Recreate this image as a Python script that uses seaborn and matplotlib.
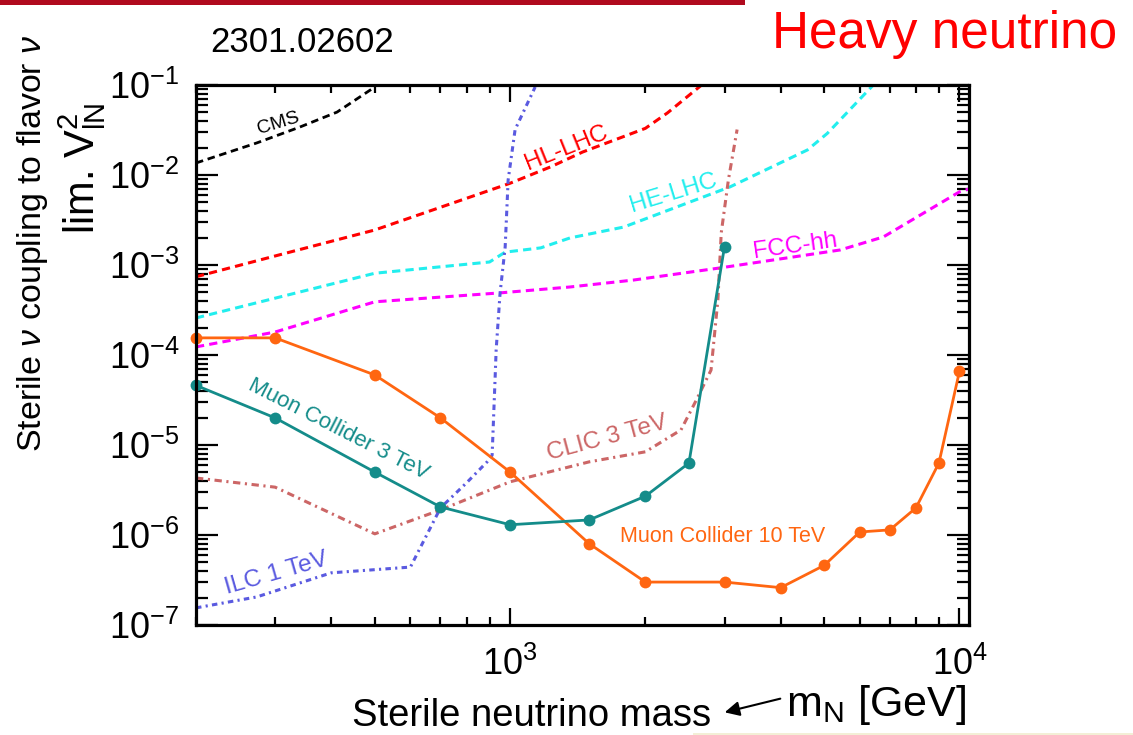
import numpy as np
import pandas as pd
import matplotlib
matplotlib.use("Agg")
import matplotlib.pyplot as plt
import seaborn as sns
from matplotlib.patches import Rectangle
from matplotlib.ticker import LogLocator, NullFormatter, LogFormatterSciNotation

# ---------------- data ----------------
mc10_mass = [200, 300, 500, 700, 1000, 1500, 2000, 3000, 4000, 5000, 6000, 7000, 8000, 9000, 10000]
mc10_v2 = [1.55e-4, 1.55e-4, 6.0e-5, 2.0e-5, 5.0e-6, 8.0e-7, 3.0e-7, 3.0e-7, 2.6e-7,
           4.6e-7, 1.08e-6, 1.14e-6, 2.0e-6, 6.3e-6, 6.6e-5]

mc3_mass = [200, 300, 500, 700, 1000, 1500, 2000, 2500, 3000]
mc3_v2 = [4.6e-5, 2.0e-5, 5.0e-6, 2.05e-6, 1.3e-6, 1.47e-6, 2.7e-6, 6.3e-6, 1.6e-3]

clic_mass = [200, 300, 500, 700, 1000, 1500, 2000, 2400, 2600, 2800, 2900, 2950, 3060, 3200]
clic_v2 = [4.3e-6, 3.4e-6, 1.03e-6, 1.9e-6, 3.9e-6, 6.5e-6, 8.4e-6, 1.47e-5, 3.2e-5,
           6.8e-5, 4.1e-4, 2.27e-3, 8.8e-3, 3.2e-2]

ilc_mass = [200, 273, 400, 600, 700, 800, 889, 912, 926, 931, 950, 975, 990, 1026, 1137]
ilc_v2 = [1.55e-7, 2.05e-7, 3.8e-7, 4.4e-7, 2.0e-6, 3.8e-6, 6.5e-6, 7.7e-6, 5.5e-5,
          1.14e-4, 4.9e-4, 1.58e-3, 8.8e-3, 3.2e-2, 9.5e-2]

hl_mass = [200, 300, 500, 1000, 1230, 1450, 2000, 2240, 2700]
hl_v2 = [7.4e-4, 1.26e-3, 2.45e-3, 8.1e-3, 1.23e-2, 1.8e-2, 3.3e-2, 4.9e-2, 1.05e-1]

he_mass = [200, 500, 900, 975, 1170, 1360, 1790, 3090, 4590, 5080, 6430]
he_v2 = [2.58e-4, 8.1e-4, 1.08e-3, 1.39e-3, 1.55e-3, 2.0e-3, 2.64e-3, 7.4e-3, 1.9e-2, 2.9e-2, 1.0e-1]

fcc_mass = [200, 300, 500, 950, 1360, 1880, 2940, 5430, 6770, 10000, 10500]
fcc_v2 = [1.23e-4, 1.8e-4, 3.9e-4, 4.9e-4, 5.7e-4, 6.8e-4, 9.3e-4, 1.47e-3, 2.05e-3, 6.5e-3, 7.0e-3]

cms_mass = [200, 273, 340, 412, 500]
cms_v2 = [1.36e-2, 2.27e-2, 3.4e-2, 5.0e-2, 9.5e-2]

# ---------------- style ----------------
sns.set_theme(style="ticks")
plt.rcParams['font.family'] = ['Liberation Sans', 'DejaVu Sans']
plt.rcParams['mathtext.fontset'] = 'custom'
plt.rcParams['mathtext.rm'] = 'Liberation Sans'
plt.rcParams['mathtext.it'] = 'Liberation Sans:italic'
plt.rcParams['mathtext.bf'] = 'Liberation Sans:bold'

W, H = 1133, 735
fig = plt.figure(figsize=(W / 100, H / 100), dpi=100)
fig.patch.set_facecolor('white')

L, R, T, B = 196, 969, 85, 625
ax = fig.add_axes([L / W, 1 - B / H, (R - L) / W, (B - T) / H])
ax.set_xscale('log')
ax.set_yscale('log')
ax.set_xlim(200, 10500)
ax.set_ylim(1e-7, 1e-1)


def fx(x, y):
    return (x / W, 1 - y / H)


# ---------------- curves ----------------
dashed = (0, (2.7, 1.7))
sns.lineplot(x=cms_mass, y=cms_v2, ax=ax, color='black', lw=2.0, linestyle=dashed,
             sort=False, estimator=None)
sns.lineplot(x=hl_mass, y=hl_v2, ax=ax, color='#FF0000', lw=2.2, linestyle=dashed,
             sort=False, estimator=None)
sns.lineplot(x=he_mass, y=he_v2, ax=ax, color='#22EEEE', lw=2.2, linestyle=dashed,
             sort=False, estimator=None)
sns.lineplot(x=fcc_mass, y=fcc_v2, ax=ax, color='#FF00FF', lw=2.2, linestyle=dashed,
             sort=False, estimator=None)
sns.lineplot(x=clic_mass, y=clic_v2, ax=ax, color='#CC6666', lw=2.2,
             linestyle=(0, (2.4, 1.5, 0.7, 1.5)), sort=False, estimator=None)
sns.lineplot(x=ilc_mass, y=ilc_v2, ax=ax, color='#5A5AE0', lw=2.2,
             linestyle=(0, (1.8, 1.4, 0.7, 1.4)), sort=False, estimator=None)
sns.lineplot(x=mc10_mass, y=mc10_v2, ax=ax, color='#FF6611', lw=2.0, marker='o',
             markersize=8.5, markeredgewidth=0, sort=False, estimator=None, clip_on=False)
sns.lineplot(x=mc3_mass, y=mc3_v2, ax=ax, color='#148C8A', lw=2.0, marker='o',
             markersize=8.5, markeredgewidth=0, sort=False, estimator=None, clip_on=False)

# ---------------- axes styling ----------------
for s in ax.spines.values():
    s.set_linewidth(2.3)
    s.set_color('black')
    s.set_visible(True)

ax.xaxis.set_major_locator(LogLocator(base=10, numticks=10))
ax.xaxis.set_minor_locator(LogLocator(base=10, subs=np.arange(2, 10), numticks=20))
ax.yaxis.set_major_locator(LogLocator(base=10, numticks=10))
ax.yaxis.set_minor_locator(LogLocator(base=10, subs=np.arange(2, 10), numticks=20))
ax.xaxis.set_minor_formatter(NullFormatter())
ax.yaxis.set_minor_formatter(NullFormatter())
ax.xaxis.set_major_formatter(LogFormatterSciNotation())
ax.yaxis.set_major_formatter(LogFormatterSciNotation())

ax.tick_params(axis='x', which='major', direction='in', length=12, width=1.6,
               top=True, bottom=True, labelsize=26, pad=16, colors='black')
ax.tick_params(axis='x', which='minor', direction='in', length=6, width=1.6,
               top=True, bottom=True, colors='black')
ax.tick_params(axis='y', which='major', direction='in', length=16, width=1.6,
               left=True, right=True, labelsize=26, pad=12, colors='black')
ax.tick_params(axis='y', which='minor', direction='in', length=8.5, width=1.6,
               left=True, right=True, colors='black')
ax.set_xlabel('')
ax.set_ylabel('')
ax.grid(False)

# ---------------- curve labels ----------------
def lab(txt, x, y, color, size, rot):
    ax.text(*fx(x, y), txt, transform=fig.transFigure, color=color, fontsize=size,
            rotation=rot, rotation_mode='anchor', ha='center', va='center')

lab('CMS', 278, 123, 'black', 14, 17)
lab('HL-LHC', 566, 148, '#FF0000', 17.5, 22)
lab('HE-LHC', 673, 193, '#22EEEE', 17.5, 17)
lab('FCC-hh', 795, 246, '#FF00FF', 17.5, 8)
lab('CLIC 3 TeV', 607, 438, '#CC6666', 17.5, 15)
lab('ILC 1 TeV', 276, 574, '#5A5AE0', 17.5, 16)
lab('Muon Collider 3 TeV', 338, 429, '#148C8A', 16, -27)
lab('Muon Collider 10 TeV', 723, 537, '#FF6611', 15.5, 0)

# ---------------- figure texts ----------------
fig.text(*fx(33, 243), r'Sterile $\nu$ coupling to flavor $\nu$', rotation=90, fontsize=24.5,
         ha='center', va='center', color='black')
fig.text(*fx(82, 168), r'lim. V$^{2}_{\mathrm{lN}}$', rotation=90, fontsize=30,
         ha='center', va='center', color='black')
fig.text(*fx(302, 42), '2301.02602', fontsize=25, ha='center', va='center', color='black')
fig.text(*fx(945, 48), 'Heavy neutrino', fontsize=37, ha='center', va='baseline', color='#FF0000')
fig.text(*fx(532, 716), 'Sterile neutrino mass', fontsize=27.5, ha='center', va='center', color='black')
fig.text(*fx(876, 705), r'm$_{\mathrm{N}}$ [GeV]', fontsize=31, ha='center', va='center', color='black')

ax.annotate('', xy=fx(722, 713), xytext=fx(783, 698), xycoords='figure fraction',
            textcoords='figure fraction', annotation_clip=False,
            arrowprops=dict(arrowstyle='-|>', color='black', lw=1.5, mutation_scale=22))

# top red bar and bottom beige line
fig.add_artist(Rectangle((0, 1 - 5 / H), 745 / W, 5 / H, transform=fig.transFigure,
                         color='#B00A1E', lw=0))
fig.add_artist(Rectangle((693 / W, 0), (W - 693) / W, 2 / H, transform=fig.transFigure,
                         color='#F3EFD6', lw=0))

fig.savefig('out.png', dpi=100)
